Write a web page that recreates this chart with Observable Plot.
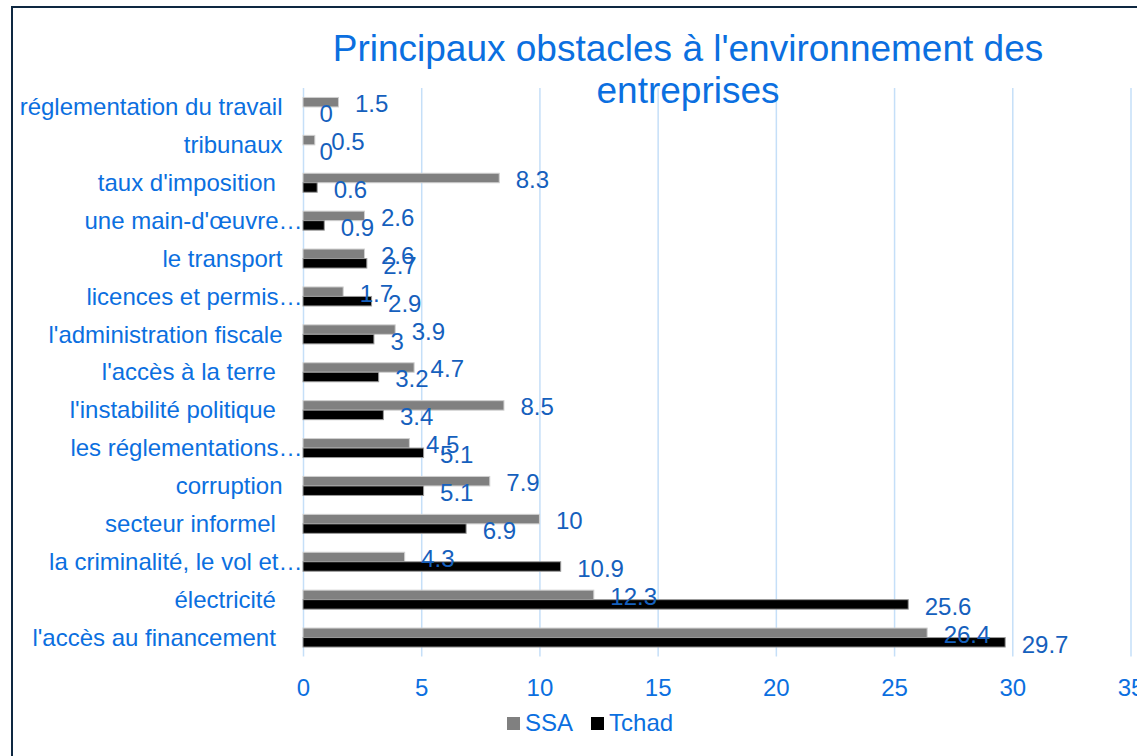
<!DOCTYPE html>
<html>
<head>
<meta charset="utf-8">
<script src="https://cdn.jsdelivr.net/npm/d3@7"></script>
<script src="https://cdn.jsdelivr.net/npm/@observablehq/plot@0.6"></script>
<style>
  body { margin: 0; background: #fff; font-family: "Liberation Sans", Arial, sans-serif; }
  #wrap { position: relative; width: 1137px; height: 756px; overflow: hidden; background: #fff; }
  #frame { position: absolute; left: 11px; top: 6px; width: 1300px; height: 900px; border: 2px solid #0e2841; box-sizing: border-box; }
  #chart { position: absolute; left: 0; top: 0; }
  #chart svg text { white-space: pre; }
  #title { position: absolute; left: 238px; top: 28px; width: 900px; text-align: center; font-size: 37px; line-height: 42px; color: #0b6fe0; }
  #legend { position: absolute; left: 507px; top: 709px; display: flex; align-items: center; font-size: 24px; color: #0b6fe0; }
  #legend .sw { width: 13px; height: 13px; margin-right: 5px; }
  #legend .item { display: flex; align-items: center; margin-right: 18px; }
</style>
</head>
<body>
<div id="wrap">
  <div id="frame"></div>
  <div id="chart"></div>
  <div id="title">Principaux obstacles à l'environnement des<br>entreprises</div>
  <div id="legend"></div>
</div>
<script>
const categories = [
  "réglementation du travail",
  "tribunaux",
  "taux d'imposition ",
  "une main-d'œuvre…",
  "le transport",
  "licences et permis…",
  "l'administration fiscale",
  "l'accès à la terre ",
  "l'instabilité politique ",
  "les réglementations…",
  "corruption",
  "secteur informel ",
  "la criminalité, le vol et…",
  "électricité ",
  "l'accès au financement "
];
const ssaValues   = [1.5, 0.5, 8.3, 2.6, 2.6, 1.7, 3.9, 4.7, 8.5, 4.5, 7.9, 10, 4.3, 12.3, 26.4];
const tchadValues = [0, 0, 0.6, 0.9, 2.7, 2.9, 3, 3.2, 3.4, 5.1, 5.1, 6.9, 10.9, 25.6, 29.7];
const seriesNames = ["SSA", "Tchad"];
const seriesColors = ["#808080", "#000000"];
const xTicks = [0, 5, 10, 15, 20, 25, 30, 35];

const ssa = categories.map((c, i) => ({cat: c, v: ssaValues[i]}));
const tchad = categories.map((c, i) => ({cat: c, v: tchadValues[i]}));

const labelColor = "#0b6fe0";
const valueColor = "#1560bd";
const FONT = "'Liberation Sans', Arial, sans-serif";

const half = (656.5 - 88) / 15 / 2;
const barH = 9.5;

const plot = Plot.plot({
  width: 1137,
  height: 756,
  marginLeft: 303,
  marginRight: 6.5,
  marginTop: 88,
  marginBottom: 99.5,
  style: {fontFamily: FONT, fontSize: "24px", background: "transparent", overflow: "hidden"},
  x: {domain: [0, 35], ticks: xTicks},
  y: {domain: categories, padding: 0, round: false},
  marks: [
    Plot.gridX(xTicks, {stroke: "#c5dff8", strokeOpacity: 1, strokeWidth: 1.5}),
    Plot.axisX(xTicks, {tickSize: 0, tickPadding: 22, fill: labelColor, fontSize: 24, label: null}),
    Plot.axisY({ticks: [], label: null, tickSize: 0}),
    Plot.barX(ssa, {x: "v", y: "cat", fill: seriesColors[0], stroke: "#cfcfcf", strokeWidth: 1, insetTop: half - barH, insetBottom: half}),
    Plot.barX(tchad, {x: "v", y: "cat", fill: seriesColors[1], stroke: "#9a9a9a", strokeWidth: 1, insetTop: half, insetBottom: half - barH}),
    Plot.text(categories.filter(c => !c.endsWith("…")), {y: d => d, frameAnchor: "left", textAnchor: "end", dx: -21, fill: labelColor, fontSize: 24}),
    Plot.text(categories.filter(c => c.endsWith("…")), {y: d => d, frameAnchor: "left", textAnchor: "end", dx: -1, fill: labelColor, fontSize: 24}),
    Plot.text(ssa, {x: "v", y: "cat", text: d => String(d.v), textAnchor: "start", dx: 16, dy: -3, fill: valueColor, fontSize: 24}),
    Plot.text(tchad, {x: "v", y: "cat", text: d => String(d.v), textAnchor: "start", dx: 16, dy: 7, fill: valueColor, fontSize: 24})
  ]
});
document.getElementById("chart").appendChild(plot);

const legend = document.getElementById("legend");
seriesNames.forEach((name, i) => {
  const item = document.createElement("div");
  item.className = "item";
  const sw = document.createElement("div");
  sw.className = "sw";
  sw.style.background = seriesColors[i];
  const t = document.createElement("span");
  t.textContent = name;
  item.appendChild(sw);
  item.appendChild(t);
  legend.appendChild(item);
});
</script>
</body>
</html>
